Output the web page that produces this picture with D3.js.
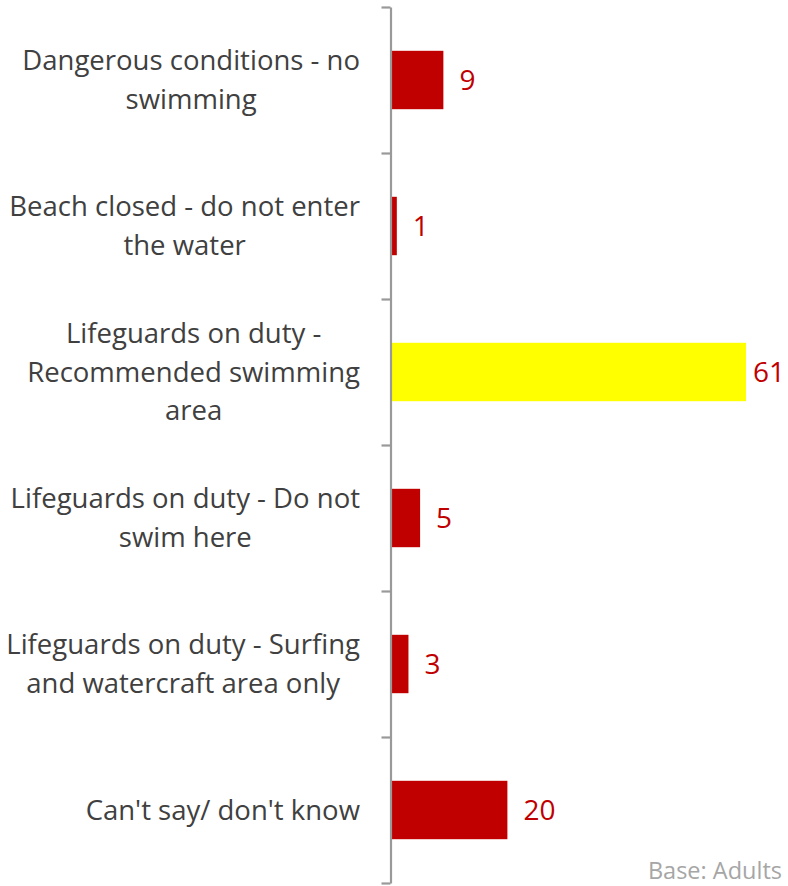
<!DOCTYPE html>
<html>
<head>
<meta charset="utf-8">
<script src="https://cdn.jsdelivr.net/npm/d3@7"></script>
<style>
  html, body { margin: 0; padding: 0; background: #fff; }
  svg { display: block; }
</style>
</head>
<body>
<svg id="chart" width="788" height="886"></svg>
<script>
const categories = [
  "Dangerous conditions - no\nswimming",
  "Beach closed - do not enter\nthe water",
  "Lifeguards on duty -\nRecommended swimming\narea",
  "Lifeguards on duty - Do not\nswim here",
  "Lifeguards on duty - Surfing\nand watercraft area only",
  "Can't say/ don't know"
];
const values = [9, 1, 61, 5, 3, 20];
const highlight = [false, false, true, false, false, false];
const footnote = "Base: Adults";

const svg = d3.select("#chart");
const axisX = 390.5;
const font = "'Open Sans', sans-serif";

const y = d3.scaleBand()
  .domain(categories)
  .range([7, 883])
  .paddingInner(0.6)
  .paddingOuter(0.3);

const x = d3.scaleLinear().domain([0, 61]).range([391, 746]);

// fit category font size so the first line spans about 338px
const probe = svg.append("text").attr("font-family", font).attr("font-size", 30).text("Dangerous conditions - no");
const pw = probe.node().getComputedTextLength();
probe.remove();
const catSize = Math.min(30, 30 * 338 / pw);

// bars
svg.selectAll("rect.bar")
  .data(categories)
  .join("rect")
  .attr("class", "bar")
  .attr("x", x(0))
  .attr("y", d => y(d))
  .attr("width", (d, i) => x(values[i]) - x(0))
  .attr("height", y.bandwidth())
  .attr("fill", (d, i) => highlight[i] ? "#FFFF00" : "#C00000");

// value labels
svg.selectAll("text.val")
  .data(categories)
  .join("text")
  .attr("class", "val")
  .attr("y", d => y(d) + y.bandwidth() / 2)
  .attr("dy", "0.36em")
  .attr("font-family", font)
  .attr("font-size", 28)
  .attr("fill", "#C00000")
  .text((d, i) => values[i])
  .each(function(d, i) {
    const w = this.getComputedTextLength();
    const sx = Math.min(x(values[i]) + 16, 785 - w);
    d3.select(this).attr("x", sx);
  });

// axis
const axisScale = d3.scalePoint().domain(d3.range(categories.length + 1)).range([7, 883]);
const axis = d3.axisLeft(axisScale).tickSize(9).tickFormat("").tickSizeOuter(0);
const ag = svg.append("g").attr("transform", `translate(${axisX},0)`).call(axis);
ag.selectAll("line").attr("stroke", "#999").attr("stroke-width", 2.2);
ag.select(".domain").attr("stroke", "#999").attr("stroke-width", 2.2);

// category labels: lines centred within a block whose right edge is at 360
const lh = 38.5;
svg.selectAll("text.cat")
  .data(categories)
  .join("text")
  .attr("class", "cat")
  .attr("text-anchor", "middle")
  .attr("font-family", font)
  .attr("font-size", catSize)
  .attr("fill", "#404040")
  .each(function(d) {
    const lines = d.split("\n");
    const cy = y(d) + y.bandwidth() / 2;
    const t = d3.select(this);
    const spans = lines.map((ln, k) =>
      t.append("tspan")
        .attr("y", cy + (k - (lines.length - 1) / 2) * lh)
        .attr("dy", "0.35em")
        .text(ln));
    const maxW = d3.max(spans, s => s.node().getComputedTextLength());
    spans.forEach(s => s.attr("x", 360 - maxW / 2));
  });

svg.append("text")
  .attr("x", 782)
  .attr("y", 879)
  .attr("text-anchor", "end")
  .attr("font-family", font)
  .attr("font-size", 23.5)
  .attr("fill", "#A6A6A6")
  .text(footnote);
</script>
</body>
</html>
